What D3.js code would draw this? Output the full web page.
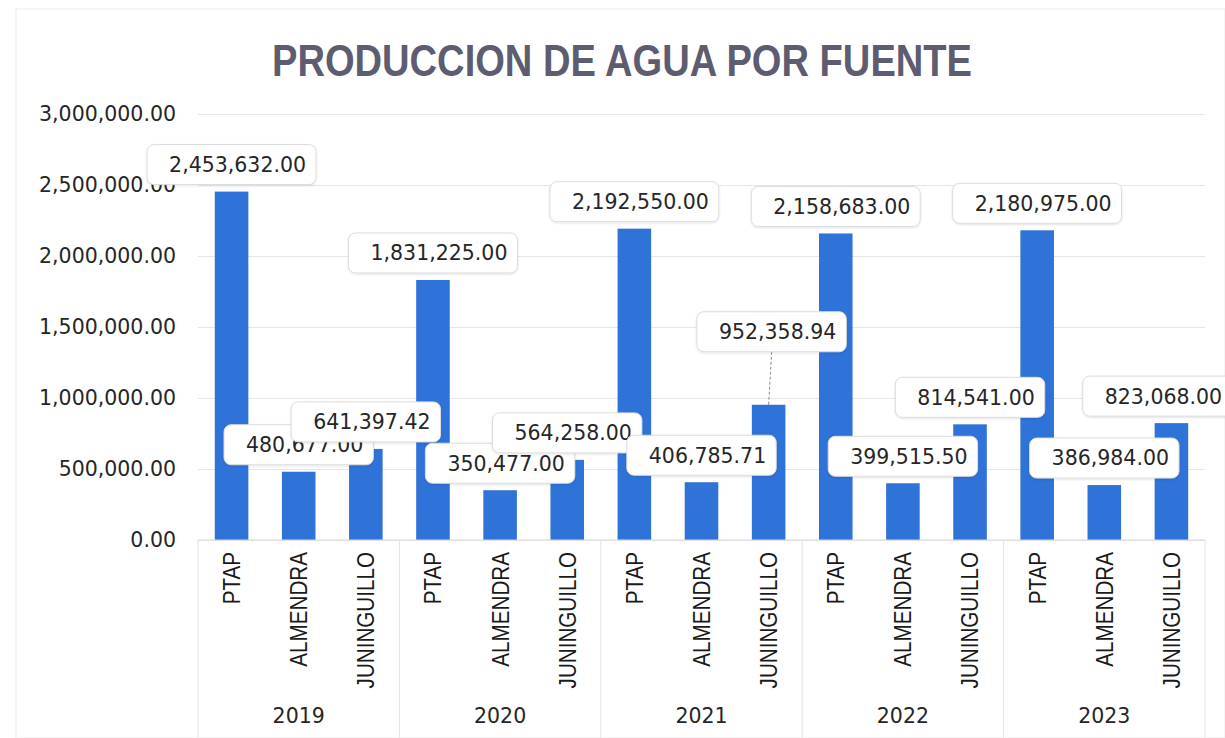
<!DOCTYPE html>
<html>
<head>
<meta charset="utf-8">
<script src="https://cdn.jsdelivr.net/npm/d3@7"></script>
<style>
	body { margin: 0; background: #fff; }
</style>
</head>
<body>
<script>
// the data
let years = ["2019", "2020", "2021", "2022", "2023"];
let sources = ["PTAP", "ALMENDRA", "JUNINGUILLO"];
let ptap = [2453632.00, 1831225.00, 2192550.00, 2158683.00, 2180975.00];
let almendra = [480677.00, 350477.00, 406785.71, 399515.50, 386984.00];
let juninguillo = [641397.42, 564258.00, 952358.94, 814541.00, 823068.00];
let yTicks = [0, 500000, 1000000, 1500000, 2000000, 2500000, 3000000];

let svg = d3.select("body").append("svg")
	.attr("width", 1225)
	.attr("height", 738);

let width = +svg.attr("width");
let height = +svg.attr("height");

//plot area
let plotLeft = 198, plotRight = 1205, plotTop = 114, plotBottom = 540;

let numFont = "'DejaVu Sans', sans-serif";
let sansFont = "'Liberation Sans', Arial, sans-serif";

//flat list of bars, one per year and source
let rows = [];
years.forEach((y, i) => {
	rows.push({ year: y, src: sources[0], value: ptap[i] });
	rows.push({ year: y, src: sources[1], value: almendra[i] });
	rows.push({ year: y, src: sources[2], value: juninguillo[i] });
});
let key = d => d.year + "|" + d.src;

//chart border
svg.append("rect")
	.attr("x", 16).attr("y", 9)
	.attr("width", width - 16).attr("height", height - 9)
	.attr("fill", "none")
	.attr("stroke", "#ececec");

/*

SCALES

*/
let scaleX = d3.scaleBand()
	.domain(rows.map(key))
	.range([plotLeft, plotRight])
	.paddingInner(0.5)
	.paddingOuter(0.25);

let scaleYear = d3.scaleBand()
	.domain(years)
	.range([plotLeft, plotRight]);

let scaleY = d3.scaleLinear()
	.domain([0, 3000000])
	.range([plotBottom, plotTop]);

//gridlines + tick labels
let yAxis = d3.axisLeft(scaleY)
	.tickValues(yTicks)
	.tickSize(-(plotRight - plotLeft))
	.tickPadding(22)
	.tickFormat(d3.format(",.2f"));

let yG = svg.append("g")
	.attr("transform", `translate(${plotLeft}, 0)`)
	.call(yAxis);
yG.select(".domain").remove();
yG.selectAll(".tick line").attr("stroke", "#e6e6e6");
yG.selectAll(".tick text")
	.attr("font-family", numFont)
	.attr("font-size", 20.5)
	.attr("fill", "#262626");

//title (narrow bold face, squeezed to the reference width)
svg.append("text")
	.attr("x", 272)
	.attr("y", 76)
	.attr("textLength", 700)
	.attr("lengthAdjust", "spacingAndGlyphs")
	.attr("font-family", sansFont)
	.attr("font-weight", "bold")
	.attr("font-size", 45)
	.attr("fill", "#5d5c70")
	.text("PRODUCCION DE AGUA POR FUENTE");

/*

BARS

*/
svg.append("g").selectAll("rect")
	.data(rows)
	.join("rect")
	.attr("x", d => scaleX(key(d)))
	.attr("width", scaleX.bandwidth())
	.attr("y", d => scaleY(d.value))
	.attr("height", d => plotBottom - scaleY(d.value))
	.attr("fill", "#2f72d8");

//category axis: baseline, group separators, labels
let xG = svg.append("g");
xG.append("line")
	.attr("x1", plotLeft).attr("x2", plotRight)
	.attr("y1", plotBottom).attr("y2", plotBottom)
	.attr("stroke", "#d9d9d9");

xG.selectAll(".sep")
	.data(years.concat(["end"]))
	.join("line")
	.attr("class", "sep")
	.attr("x1", (d, i) => i < years.length ? scaleYear(d) : plotRight)
	.attr("x2", (d, i) => i < years.length ? scaleYear(d) : plotRight)
	.attr("y1", plotBottom).attr("y2", height)
	.attr("stroke", "#e3e3e3");

xG.selectAll(".cat")
	.data(rows)
	.join("text")
	.attr("class", "cat")
	.attr("transform", d => `translate(${scaleX(key(d)) + scaleX.bandwidth() / 2}, 552) rotate(-90) scale(0.86, 1)`)
	.attr("text-anchor", "end")
	.attr("dy", "0.35em")
	.attr("font-family", sansFont)
	.attr("font-size", 24)
	.attr("fill", "#1a1a1a")
	.text(d => d.src);

xG.selectAll(".yr")
	.data(years)
	.join("text")
	.attr("class", "yr")
	.attr("x", d => scaleYear(d) + scaleYear.bandwidth() / 2)
	.attr("y", 723)
	.attr("text-anchor", "middle")
	.attr("font-family", numFont)
	.attr("font-size", 20.5)
	.attr("fill", "#262626")
	.text(d => d);

/*

DATA LABELS

*/
let defs = svg.append("defs");
let shadow = defs.append("filter").attr("id", "shadow")
	.attr("x", "-10%").attr("y", "-20%").attr("width", "120%").attr("height", "150%");
shadow.append("feDropShadow")
	.attr("dx", 0).attr("dy", 1)
	.attr("stdDeviation", 1.2)
	.attr("flood-color", "#000")
	.attr("flood-opacity", 0.12);

//labels that were dragged away from their default spot: [dx, dy]
let moved = {
	"2021|JUNINGUILLO": [3, -46], //lifted, with a leader line
	"2023|JUNINGUILLO": [-14, 0]  //pushed in from the right edge
};
let fmt = d3.format(",.2f");

let lg = svg.append("g");
rows.forEach(d => {
	let shift = moved[key(d)] || [0, 0];
	let cx = scaleX(key(d)) + scaleX.bandwidth() / 2;
	let barTop = scaleY(d.value);
	let bx = cx + shift[0];
	let cy = barTop - 27 + shift[1];
	let g = lg.append("g");
	let box = g.append("rect");
	let t = g.append("text")
		.attr("x", bx + 6)
		.attr("y", cy)
		.attr("dy", "0.36em")
		.attr("text-anchor", "middle")
		.attr("font-family", numFont)
		.attr("font-size", 20.5)
		.attr("fill", "#262626")
		.text(fmt(d.value));
	let bb = t.node().getBBox();
	box.attr("x", bb.x - 22)
		.attr("y", cy - 20)
		.attr("width", bb.width + 32)
		.attr("height", 40)
		.attr("rx", 7)
		.attr("fill", "#fff")
		.attr("stroke", "#dcdcdc")
		.attr("filter", "url(#shadow)");
	if (shift[1] < -20) {
		lg.insert("line", ":first-child")
			.attr("x1", bx).attr("x2", cx)
			.attr("y1", cy + 20).attr("y2", barTop)
			.attr("stroke", "#8c8c8c")
			.attr("stroke-dasharray", "3,2");
	}
});
</script>
</body>
</html>
